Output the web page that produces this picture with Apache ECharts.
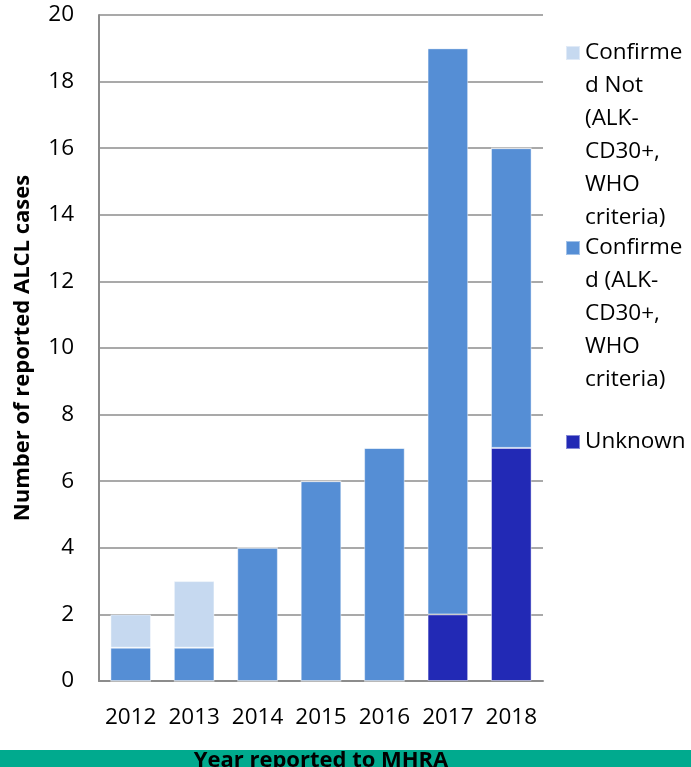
<!DOCTYPE html>
<html>
<head>
<meta charset="utf-8">
<script src="https://cdn.jsdelivr.net/npm/echarts@6/dist/echarts.min.js"></script>
<style>
  html, body { margin: 0; padding: 0; background: #ffffff; }
  #chart { width: 691px; height: 767px; }
</style>
</head>
<body>
<div id="chart"></div>
<script>
// Reported ALCL cases per year, split by diagnostic status
const years = ['2012', '2013', '2014', '2015', '2016', '2017', '2018'];
const unknownCases = [0, 0, 0, 0, 0, 2, 7];
const confirmedCases = [1, 1, 4, 6, 7, 17, 9];
const confirmedNotCases = [1, 2, 0, 0, 0, 0, 0];
const yTicks = [0, 2, 4, 6, 8, 10, 12, 14, 16, 18, 20];

const NAME_NOT = 'Confirmed Not (ALK-CD30+, WHO criteria)';
const NAME_CONF = 'Confirmed (ALK-CD30+, WHO criteria)';
const NAME_UNK = 'Unknown';

// Wrapped legend labels, broken the way a narrow legend column wraps them
const legendLines = {};
legendLines[NAME_NOT] = ['Confirme', 'd Not', '(ALK-', 'CD30+,', 'WHO', 'criteria)'];
legendLines[NAME_CONF] = ['Confirme', 'd (ALK-', 'CD30+,', 'WHO', 'criteria)'];
legendLines[NAME_UNK] = ['Unknown'];

const COLORS = {};
COLORS[NAME_NOT] = '#c6d9f0';
COLORS[NAME_CONF] = '#558ed5';
COLORS[NAME_UNK] = '#2229b5';

const LINE_H = 33;
const ICON = 14;
const textFont = '"Open Sans", sans-serif';
const FS = 22.5;

// Each legend entry is its own legend. Blank lines are put in front of the
// label so the vertically centred text block puts its first line beside
// the swatch.
function legendFor(name, iconTop) {
  const n = legendLines[name].length;
  const boxH = (2 * n - 1) * LINE_H;
  return {
    orient: 'vertical',
    left: 565,
    top: iconTop - (boxH / 2 - ICON / 2),
    padding: 0,
    itemWidth: ICON,
    itemHeight: ICON,
    icon: 'rect',
    selectedMode: false,
    data: [name],
    formatter: function (nm) {
      const lines = [];
      for (let i = 1; i < n; i++) lines.push(' ');
      return lines.concat(legendLines[nm]).join('\n');
    },
    textStyle: {
      fontFamily: textFont,
      fontSize: FS,
      color: '#000000',
      lineHeight: LINE_H
    }
  };
}

const chart = echarts.init(document.getElementById('chart'), null, { renderer: 'canvas' });

function barSeries(name, values) {
  return {
    name: name,
    type: 'bar',
    stack: 'cases',
    data: values,
    barCategoryGap: '36%',
    itemStyle: {
      color: COLORS[name],
      borderColor: 'rgba(255,255,255,0.45)',
      borderWidth: 1
    },
    emphasis: { disabled: true }
  };
}

chart.setOption({
  backgroundColor: '#ffffff',
  animation: false,
  graphic: [{
    type: 'rect',
    z: -10,
    left: 0,
    top: 750,
    shape: { width: 691, height: 17 },
    style: { fill: '#00aa8e' }
  }],
  legend: [
    legendFor(NAME_NOT, 46),
    legendFor(NAME_CONF, 241),
    legendFor(NAME_UNK, 435)
  ],
  grid: {
    left: 99, right: 148, top: 15, bottom: 86,
    containLabel: false,
    outerBoundsMode: 'none'
  },
  xAxis: {
    type: 'category',
    data: years,
    name: 'Year reported to MHRA',
    nameLocation: 'middle',
    nameGap: 69,
    nameTextStyle: {
      fontFamily: textFont,
      fontWeight: 'bold',
      fontSize: 22,
      color: '#000000'
    },
    axisLine: { show: true, lineStyle: { color: '#8c8c8c', width: 2 } },
    axisTick: { show: false },
    axisLabel: {
      interval: 0,
      fontFamily: textFont,
      fontSize: FS,
      color: '#000000',
      margin: 25
    }
  },
  yAxis: {
    type: 'value',
    min: yTicks[0],
    max: yTicks[yTicks.length - 1],
    interval: 2,
    name: 'Number of reported ALCL cases',
    nameLocation: 'middle',
    nameRotate: 90,
    nameGap: 65,
    nameTextStyle: {
      fontFamily: textFont,
      fontWeight: 'bold',
      fontSize: 22,
      color: '#000000'
    },
    axisLine: { show: true, lineStyle: { color: '#8c8c8c', width: 2 } },
    axisTick: { show: false },
    axisLabel: {
      fontFamily: textFont,
      fontSize: FS,
      color: '#000000',
      margin: 25
    },
    splitLine: { show: true, lineStyle: { color: '#8c8c8c', width: 1.5 } }
  },
  series: [
    barSeries(NAME_UNK, unknownCases),
    barSeries(NAME_CONF, confirmedCases),
    barSeries(NAME_NOT, confirmedNotCases)
  ]
});
</script>
</body>
</html>
